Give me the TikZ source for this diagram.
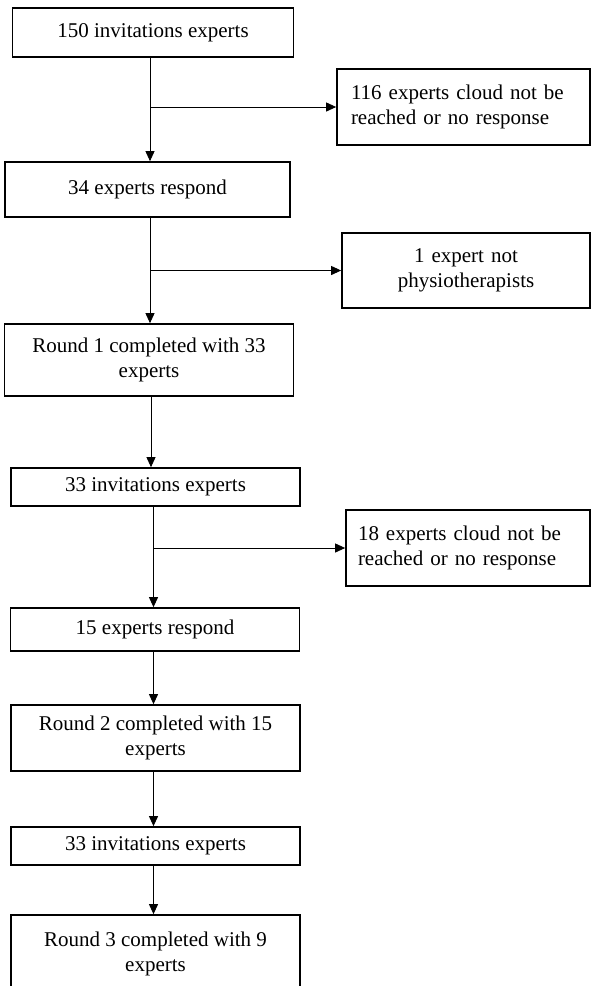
\documentclass[tikz,border=0pt]{standalone}
\usepackage{fontspec}
\setmainfont{Liberation Serif}
\usepackage{tikz}
\usetikzlibrary{arrows.meta}
\usetikzlibrary{positioning}
\tikzset{box/.style = {draw, line width = 1.7pt, inner sep = 0, align = center, minimum width = 289pt, font = \fontsize{21}{25}\selectfont}}
\tikzset{sidebox/.style = {draw, line width = 1.7pt, inner sep = 0, minimum height = 76pt, font = \fontsize{21}{25}\selectfont}}
\tikzset{arr/.style = {line width = 0.9pt, -{Triangle[length = 10pt, width = 9pt]}}}

\begin{document}
\begin{tikzpicture}[x = 1pt, y = -1pt]
      \clip (0, 0) rectangle (592, 986);

      \node[box, minimum width = 281pt, minimum height = 49pt] (inv1) at (153, 32.5) {150 invitations experts};
      \node[box, minimum width = 285pt, minimum height = 55pt] (resp1) at (147.5, 189.5) {34 experts respond};
      \node[box, minimum height = 72pt] (round1) at (149, 360) {Round 1 completed with 33\\experts};
      \node[box, minimum height = 38pt] (inv2) at (155.5, 487) {33 invitations experts};
      \node[box, minimum height = 43pt] (resp2) at (155, 629.5) {15 experts respond};
      \node[box, minimum height = 66pt] (round2) at (155.5, 738) {Round 2 completed with 15\\experts};
      \node[box, minimum height = 38pt] (inv3) at (155.5, 846) {33 invitations experts};
      \node[box, minimum height = 77pt] (round3) at (155.5, 953.5) {Round 3 completed with 9\\experts};

      \node[sidebox, minimum width = 253pt, text width = 225pt, align = left] (lost1) at (463.5, 107) {116 experts cloud not be\\reached or no response};
      \node[sidebox, minimum width = 248pt, text width = 248pt, align = center, minimum height = 75pt] (lost2) at (466, 270.5) {1 expert not\\physiotherapists};
      \node[sidebox, minimum width = 244pt, text width = 220pt, align = left] (lost3) at (468, 548) {18 experts cloud not be\\reached or no response};

      \coordinate (s1) at (150, 0);
      \coordinate (s2) at (151, 0);
      \coordinate (s3) at (153.5, 0);

      \draw[arr] (inv1.south -| s1) -- (resp1.north -| s1);
      \draw[arr] (lost1.west -| s1) -- (lost1.west);
      \draw[arr] (resp1.south -| s1) -- (round1.north -| s1);
      \draw[arr] (lost2.west -| s1) -- (lost2.west);
      \draw[arr] (round1.south -| s2) -- (inv2.north -| s2);
      \draw[arr] (inv2.south -| s3) -- (resp2.north -| s3);
      \draw[arr] (lost3.west -| s3) -- (lost3.west);
      \draw[arr] (resp2.south -| s3) -- (round2.north -| s3);
      \draw[arr] (round2.south -| s3) -- (inv3.north -| s3);
      \draw[arr] (inv3.south -| s3) -- (round3.north -| s3);
    \end{tikzpicture}
\end{document}
